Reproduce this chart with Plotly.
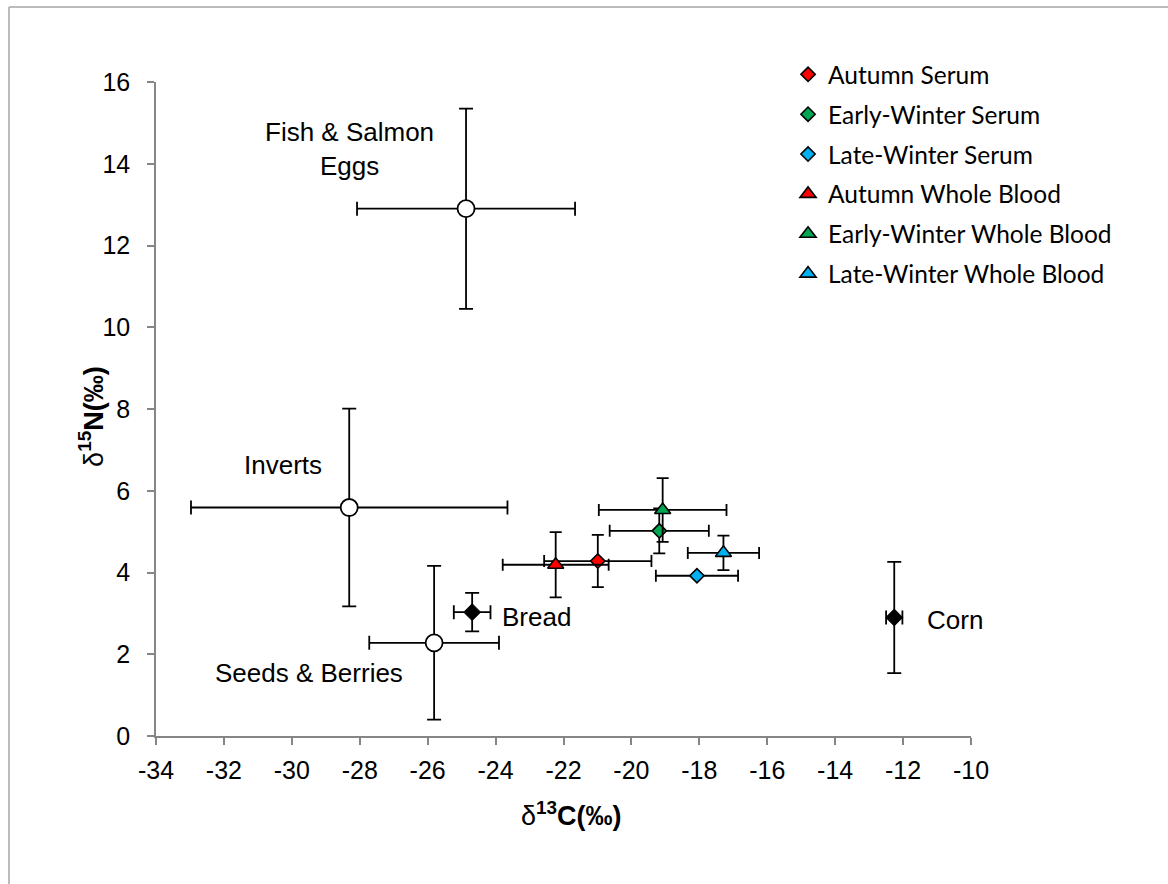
import plotly.graph_objects as go

# Diet sources (mean ± SD)
source_names = ["Fish & Salmon Eggs", "Inverts", "Seeds & Berries"]
source_c = [-24.87, -28.31, -25.81]
source_c_sd = [3.21, 4.66, 1.91]
source_n = [12.90, 5.59, 2.28]
source_n_sd = [2.45, 2.42, 1.88]

human_food_names = ["Bread", "Corn"]
human_food_c = [-24.69, -12.26]
human_food_c_sd = [0.54, 0.24]
human_food_n = [3.03, 2.90]
human_food_n_sd = [0.47, 1.36]

# Consumer tissues by season (mean ± SD)
tissue_names = ["Autumn Serum", "Early-Winter Serum", "Late-Winter Serum",
                "Autumn Whole Blood", "Early-Winter Whole Blood", "Late-Winter Whole Blood"]
tissue_c = [-20.99, -19.18, -18.07, -22.23, -19.08, -17.29]
tissue_c_sd = [1.58, 1.46, 1.21, 1.56, 1.88, 1.05]
tissue_n = [4.28, 5.02, 3.92, 4.19, 5.53, 4.48]
tissue_n_sd = [0.64, 0.55, 0.0, 0.80, 0.78, 0.42]
tissue_colors = ["#FF0000", "#00A651", "#00B0F0", "#FF0000", "#00A651", "#00B0F0"]
tissue_symbols = ["diamond", "diamond", "diamond", "triangle-up", "triangle-up", "triangle-up"]
tissue_sizes = [11, 11, 11, 14, 14, 14]

# Label positions for the diet sources
label_text = ["Fish & Salmon<br>Eggs", "Inverts", "Seeds & Berries", "Bread", "Corn"]
label_x = [-28.30, -30.26, -29.49, -22.80, -10.47]
label_y = [14.35, 6.63, 1.54, 2.91, 2.84]

x_ticks = list(range(-34, -9, 2))
x_tick_text = [str(v) for v in x_ticks]
y_ticks = list(range(0, 17, 2))
y_tick_text = [str(v) for v in y_ticks]

FONT = "Liberation Sans, Arial, sans-serif"
ERR_COLOR = "black"
ERR_THICK = 1.8
ERR_CAP = 7

fig = go.Figure()

fig.add_trace(go.Scatter(
    x=source_c, y=source_n, mode="markers", showlegend=False,
    marker=dict(symbol="circle", size=17, color="white", line=dict(color="black", width=1.8)),
    error_x=dict(type="data", array=source_c_sd, color=ERR_COLOR, thickness=ERR_THICK, width=ERR_CAP),
    error_y=dict(type="data", array=source_n_sd, color=ERR_COLOR, thickness=ERR_THICK, width=ERR_CAP),
    hovertext=source_names,
))

fig.add_trace(go.Scatter(
    x=human_food_c, y=human_food_n, mode="markers", showlegend=False,
    marker=dict(symbol="diamond", size=13, color="black", line=dict(color="black", width=1)),
    error_x=dict(type="data", array=human_food_c_sd, color=ERR_COLOR, thickness=ERR_THICK, width=ERR_CAP),
    error_y=dict(type="data", array=human_food_n_sd, color=ERR_COLOR, thickness=ERR_THICK, width=ERR_CAP),
    hovertext=human_food_names,
))

for i, name in enumerate(tissue_names):
    fig.add_trace(go.Scatter(
        x=[tissue_c[i]], y=[tissue_n[i]], mode="markers", name=name,
        legendgroup=name,
        marker=dict(symbol=tissue_symbols[i], size=tissue_sizes[i], color=tissue_colors[i],
                    line=dict(color="black", width=1.6)),
        error_x=dict(type="data", array=[tissue_c_sd[i]], color=ERR_COLOR,
                     thickness=ERR_THICK, width=ERR_CAP - 1),
        error_y=dict(type="data", array=[tissue_n_sd[i]], color=ERR_COLOR,
                     thickness=ERR_THICK, width=ERR_CAP - 1, visible=tissue_n_sd[i] > 0),
    ))

for t, lx, ly in zip(label_text, label_x, label_y):
    fig.add_annotation(x=lx, y=ly, xref="x", yref="y", text=t, showarrow=False,
                       font=dict(family=FONT, size=26, color="black"),
                       align="center")

# Axis titles
fig.add_annotation(xref="paper", yref="paper", x=0.51, y=-0.148, showarrow=False,
                   text="δ<b><sup>13</sup>C(‰)</b>",
                   font=dict(family=FONT, size=27, color="black"))
fig.add_annotation(xref="paper", yref="paper", x=-0.103, y=0.488, showarrow=False,
                   textangle=-90, text="δ<b><sup>15</sup>N(‰)</b>",
                   font=dict(family=FONT, size=27, color="black"))

# Chart-area frame (left and top edges)
frame = dict(color="#A6A6A6", width=1.5)
fig.add_shape(type="line", xref="paper", yref="paper", x0=-0.1804, x1=-0.1804,
              y0=-0.23, y1=1.1147, line=frame)
fig.add_shape(type="line", xref="paper", yref="paper", x0=-0.1804, x1=1.25,
              y0=1.1147, y1=1.1147, line=frame)

axis_common = dict(
    showline=True, linecolor="#868686", linewidth=1.5,
    ticks="outside", ticklen=7, tickcolor="#868686", tickwidth=1.5,
    showgrid=False, zeroline=False,
    tickfont=dict(family=FONT, size=25, color="black"),
)

fig.update_layout(
    width=1168, height=884, autosize=False,
    margin=dict(l=156, r=197, t=82, b=148),
    paper_bgcolor="white", plot_bgcolor="white",
    xaxis=dict(range=[-34, -10], tickmode="array", tickvals=x_ticks, ticktext=x_tick_text,
               ticklabelstandoff=4, **axis_common),
    yaxis=dict(range=[0, 16], tickmode="array", tickvals=y_ticks, ticktext=y_tick_text,
               ticklabelstandoff=12, **axis_common),
    legend=dict(
        x=0.7755, y=1.046, xanchor="left", yanchor="top",
        font=dict(family="Lato", size=24.5, color="black"),
        bgcolor="rgba(0,0,0,0)", traceorder="grouped", tracegroupgap=5,
    ),
)

fig.write_html("out.html")
